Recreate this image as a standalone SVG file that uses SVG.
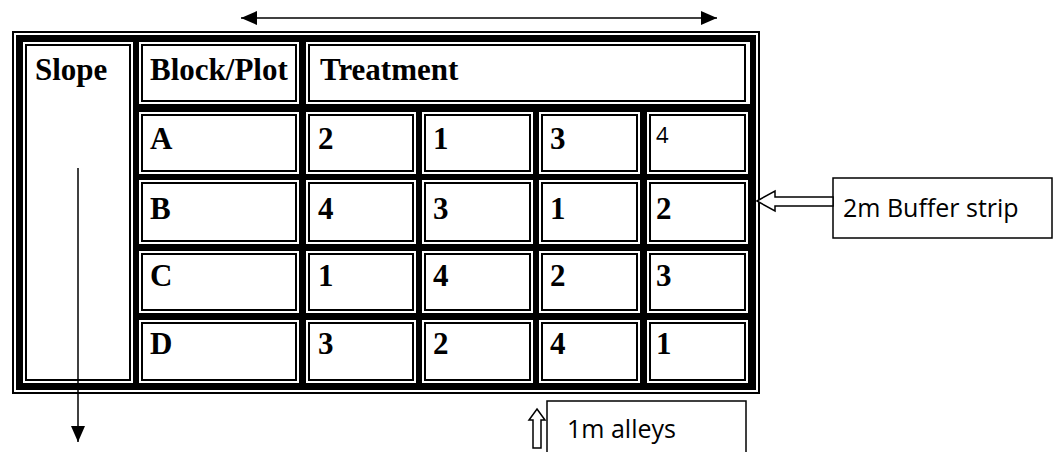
<svg xmlns="http://www.w3.org/2000/svg" width="1060" height="452" viewBox="0 0 1060 452">
<style>
.gap{fill:#fff}
.cell{fill:#fff;stroke:#000;stroke-width:2}
.t{font-family:"Liberation Serif","Times New Roman",serif;font-weight:bold;font-size:31px;fill:#000}
.s{font-family:"Open Sans","Liberation Sans",sans-serif;font-size:25px;fill:#000}
.box{fill:#fff;stroke:#000;stroke-width:1.5}
.ln{fill:none;stroke:#000;stroke-width:1.5}
.hollow{fill:#fff;stroke:#000;stroke-width:1.5;stroke-linejoin:miter}
</style>
<defs>
<marker id="ahb" viewBox="0 0 16 14" refX="16" refY="7" markerWidth="16" markerHeight="14" markerUnits="userSpaceOnUse" orient="auto-start-reverse">
<path d="M0,0 L16,7 L0,14 Z" fill="#000"/>
</marker>
</defs>
<rect width="1060" height="452" fill="#fff"/>
<g id="table">
<rect x="13" y="32" width="746" height="361" fill="none" stroke="#000" stroke-width="2"/>
<rect x="16" y="35" width="740" height="355" fill="#000"/>
</g>
<g id="slope">
<rect class="gap" x="23" y="42" width="110" height="341"/>
<rect class="cell" x="26" y="45" width="104" height="335"/>
<text class="t" x="35" y="80">Slope</text>
</g>
<g id="blockplot">
<rect class="gap" x="139" y="42" width="160" height="62"/>
<rect class="cell" x="142" y="45" width="154" height="56"/>
<text class="t" x="150" y="80">Block/Plot</text>
</g>
<g id="treatment">
<rect class="gap" x="306" y="42" width="444" height="62"/>
<rect class="cell" x="309" y="45" width="436" height="56"/>
<text class="t" x="320" y="80">Treatment</text>
</g>
<g id="rowA">
<rect class="gap" x="139" y="112" width="160" height="62"/><rect class="cell" x="142" y="115" width="154" height="56"/>
<rect class="gap" x="306" y="112" width="110" height="62"/><rect class="cell" x="309" y="115" width="104" height="56"/>
<rect class="gap" x="422" y="112" width="111" height="62"/><rect class="cell" x="425" y="115" width="105" height="56"/>
<rect class="gap" x="539" y="112" width="101" height="62"/><rect class="cell" x="542" y="115" width="95" height="56"/>
<rect class="gap" x="647" y="112" width="101" height="62"/><rect class="cell" x="650" y="115" width="95" height="56"/>
<text class="t" x="150" y="149">A</text>
<text class="t" x="318" y="149">2</text>
<text class="t" x="433" y="149">1</text>
<text class="t" x="550" y="149">3</text>
<text x="656" y="143" style="font-family:'Open Sans','Liberation Sans',sans-serif;font-size:22px">4</text>
</g>
<g id="rowB">
<rect class="gap" x="139" y="180" width="160" height="64"/><rect class="cell" x="142" y="183" width="154" height="58"/>
<rect class="gap" x="306" y="180" width="110" height="64"/><rect class="cell" x="309" y="183" width="104" height="58"/>
<rect class="gap" x="422" y="180" width="111" height="64"/><rect class="cell" x="425" y="183" width="105" height="58"/>
<rect class="gap" x="539" y="180" width="101" height="64"/><rect class="cell" x="542" y="183" width="95" height="58"/>
<rect class="gap" x="647" y="180" width="101" height="64"/><rect class="cell" x="650" y="183" width="95" height="58"/>
<text class="t" x="150" y="219">B</text>
<text class="t" x="318" y="219">4</text>
<text class="t" x="433" y="219">3</text>
<text class="t" x="550" y="219">1</text>
<text class="t" x="656" y="219">2</text>
</g>
<g id="rowC">
<rect class="gap" x="139" y="251" width="160" height="62"/><rect class="cell" x="142" y="254" width="154" height="56"/>
<rect class="gap" x="306" y="251" width="110" height="62"/><rect class="cell" x="309" y="254" width="104" height="56"/>
<rect class="gap" x="422" y="251" width="111" height="62"/><rect class="cell" x="425" y="254" width="105" height="56"/>
<rect class="gap" x="539" y="251" width="101" height="62"/><rect class="cell" x="542" y="254" width="95" height="56"/>
<rect class="gap" x="647" y="251" width="101" height="62"/><rect class="cell" x="650" y="254" width="95" height="56"/>
<text class="t" x="150" y="286">C</text>
<text class="t" x="318" y="286">1</text>
<text class="t" x="433" y="286">4</text>
<text class="t" x="550" y="286">2</text>
<text class="t" x="656" y="286">3</text>
</g>
<g id="rowD">
<rect class="gap" x="139" y="320" width="160" height="63"/><rect class="cell" x="142" y="323" width="154" height="57"/>
<rect class="gap" x="306" y="320" width="110" height="63"/><rect class="cell" x="309" y="323" width="104" height="57"/>
<rect class="gap" x="422" y="320" width="111" height="63"/><rect class="cell" x="425" y="323" width="105" height="57"/>
<rect class="gap" x="539" y="320" width="101" height="63"/><rect class="cell" x="542" y="323" width="95" height="57"/>
<rect class="gap" x="647" y="320" width="101" height="63"/><rect class="cell" x="650" y="323" width="95" height="57"/>
<text class="t" x="150" y="354">D</text>
<text class="t" x="318" y="354">3</text>
<text class="t" x="433" y="354">2</text>
<text class="t" x="550" y="354">4</text>
<text class="t" x="656" y="354">1</text>
</g>
<g id="buffer">
<rect class="box" x="833" y="178" width="219" height="60"/>
<text class="s" x="843" y="217">2m Buffer strip</text>
</g>
<g id="alleys">
<rect class="box" x="547" y="401" width="199" height="60"/>
<text class="s" x="567" y="438">1m alleys</text>
</g>
<g id="connectors">
<line class="ln" x1="241" y1="18" x2="717" y2="18" marker-start="url(#ahb)" marker-end="url(#ahb)"/>
<line class="ln" x1="78" y1="168" x2="78" y2="442" stroke="#222" marker-end="url(#ahb)"/>
<polygon class="hollow" points="757,201 775,191 775,197 833,197 833,206 775,206 775,211"/>
<polygon class="hollow" points="537,409 545,420 541,420 541,448 533,448 533,420 529,420"/>
</g>
</svg>
